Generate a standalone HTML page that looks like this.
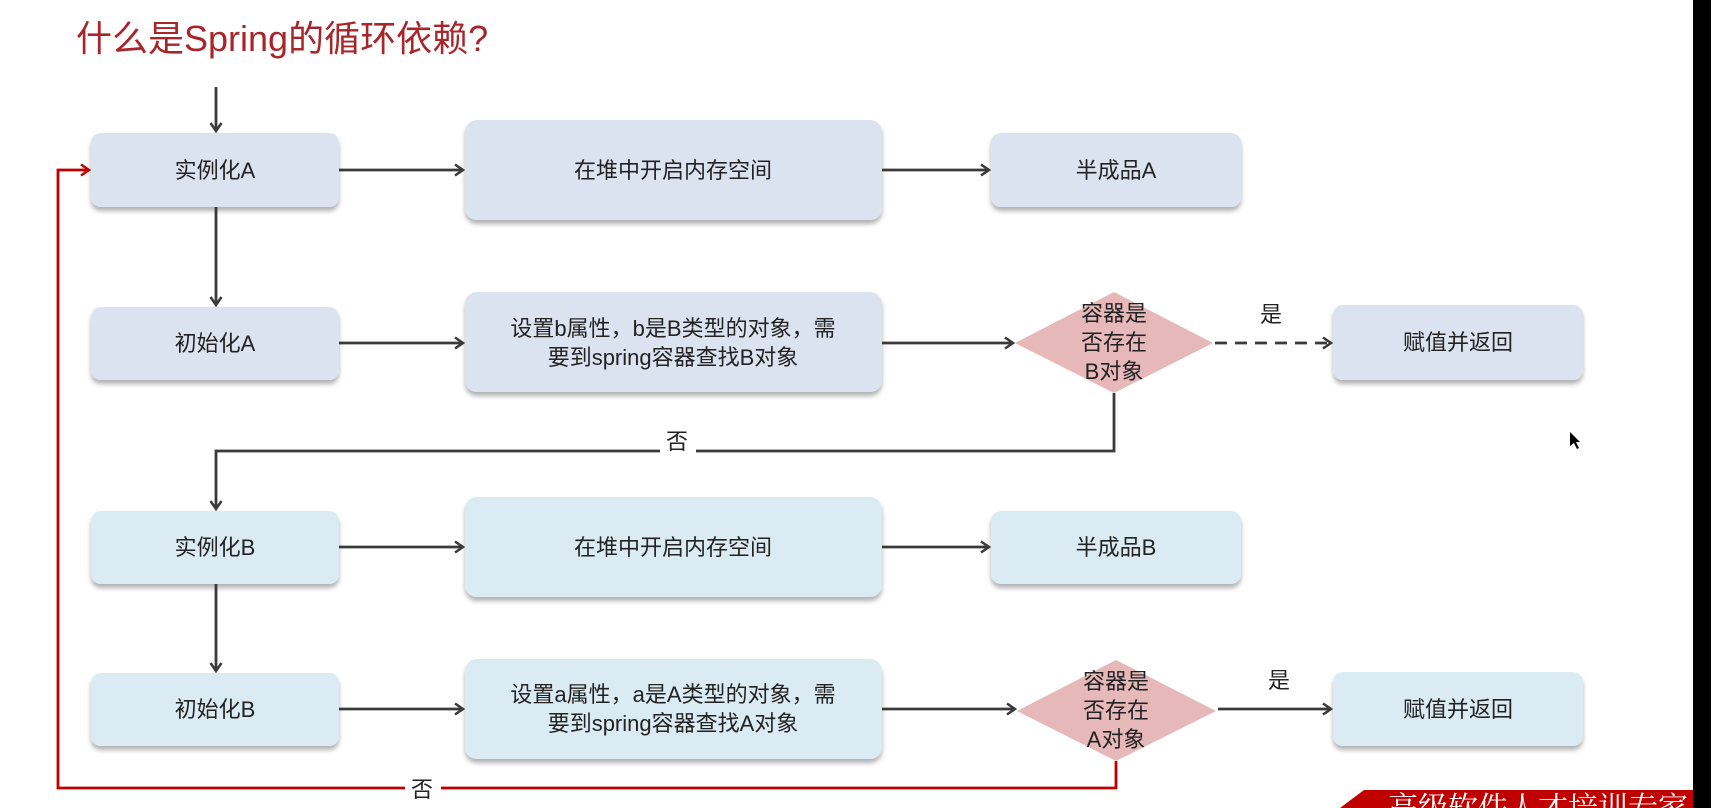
<!DOCTYPE html>
<html><head><meta charset="utf-8"><style>
html,body{margin:0;padding:0;background:#fff;}
svg{display:block;}
text{font-family:"Liberation Sans","Noto Sans CJK SC",sans-serif;fill:#222;}
</style></head><body>
<svg width="1711" height="808" viewBox="0 0 1711 808" xmlns="http://www.w3.org/2000/svg">
<defs>
<filter id="sh" x="-10%" y="-10%" width="120%" height="130%"><feDropShadow dx="0" dy="4" stdDeviation="2.5" flood-color="#000" flood-opacity="0.3"/></filter>
<marker id="ar" markerWidth="14" markerHeight="14" refX="11" refY="7" orient="auto" markerUnits="userSpaceOnUse"><path d="M3,1.5 L11,7 L3,12.5" fill="none" stroke="#3a3a3a" stroke-width="2.5"/></marker>
<marker id="arr" markerWidth="14" markerHeight="14" refX="11" refY="7" orient="auto" markerUnits="userSpaceOnUse"><path d="M3,1.5 L11,7 L3,12.5" fill="none" stroke="#c00000" stroke-width="2.5"/></marker>
</defs>
<rect x="1693" y="0" width="18" height="808" fill="#000"/>
<text x="76" y="51" font-size="36" style="fill:#a8262a">什么是Spring的循环依赖?</text>

<g filter="url(#sh)">
<rect x="91" y="133" width="248" height="74" rx="10" fill="#dce3f0"/>
<rect x="465" y="120" width="417" height="100" rx="12" fill="#dce3f0"/>
<rect x="991" y="133" width="250" height="74" rx="10" fill="#dce3f0"/>
<rect x="91" y="307" width="248" height="73" rx="10" fill="#dce3f0"/>
<rect x="465" y="292" width="417" height="100" rx="12" fill="#dce3f0"/>
<rect x="1333" y="305" width="250" height="75" rx="10" fill="#dce3f0"/>
<rect x="91" y="511" width="248" height="73" rx="10" fill="#dbebf3"/>
<rect x="465" y="497" width="417" height="100" rx="12" fill="#dbebf3"/>
<rect x="991" y="511" width="250" height="73" rx="10" fill="#dbebf3"/>
<rect x="91" y="673" width="248" height="73" rx="10" fill="#dbebf3"/>
<rect x="465" y="659" width="417" height="100" rx="12" fill="#dbebf3"/>
<rect x="1333" y="672" width="250" height="74" rx="10" fill="#dbebf3"/>
</g>
<polygon points="1114,292 1213,343 1114,393 1015,343" fill="#e6b8b9"/>
<polygon points="1116,660 1216,711 1116,761 1017,711" fill="#e6b8b9"/>

<g font-size="22" text-anchor="middle">
<text x="215" y="178">实例化A</text>
<text x="673" y="178">在堆中开启内存空间</text>
<text x="1116" y="178">半成品A</text>
<text x="215" y="351">初始化A</text>
<text x="673" y="336">设置b属性，b是B类型的对象，需</text>
<text x="673" y="365">要到spring容器查找B对象</text>
<text x="1458" y="350">赋值并返回</text>
<text x="215" y="555">实例化B</text>
<text x="673" y="555">在堆中开启内存空间</text>
<text x="1116" y="555">半成品B</text>
<text x="215" y="717">初始化B</text>
<text x="673" y="702">设置a属性，a是A类型的对象，需</text>
<text x="673" y="731">要到spring容器查找A对象</text>
<text x="1458" y="717">赋值并返回</text>
</g>
<g font-size="22" text-anchor="middle">
<text x="1114" y="321">容器是</text>
<text x="1114" y="350">否存在</text>
<text x="1114" y="379">B对象</text>
<text x="1116" y="689">容器是</text>
<text x="1116" y="718">否存在</text>
<text x="1116" y="747">A对象</text>
<text x="1271" y="322">是</text>
<text x="1279" y="688">是</text>
</g>

<g stroke="#3a3a3a" stroke-width="2.8" fill="none">
<line x1="216" y1="87" x2="216" y2="131" marker-end="url(#ar)"/>
<line x1="216" y1="207" x2="216" y2="305" marker-end="url(#ar)"/>
<line x1="216" y1="584" x2="216" y2="671" marker-end="url(#ar)"/>
<line x1="339" y1="170" x2="463" y2="170" marker-end="url(#ar)"/>
<line x1="882" y1="170" x2="989" y2="170" marker-end="url(#ar)"/>
<line x1="339" y1="343" x2="463" y2="343" marker-end="url(#ar)"/>
<line x1="882" y1="343" x2="1013" y2="343" marker-end="url(#ar)"/>
<line x1="1215" y1="343" x2="1331" y2="343" stroke-dasharray="12,8" marker-end="url(#ar)"/>
<line x1="339" y1="547" x2="463" y2="547" marker-end="url(#ar)"/>
<line x1="882" y1="547" x2="989" y2="547" marker-end="url(#ar)"/>
<line x1="339" y1="709" x2="463" y2="709" marker-end="url(#ar)"/>
<line x1="882" y1="709" x2="1015" y2="709" marker-end="url(#ar)"/>
<line x1="1218" y1="709" x2="1331" y2="709" marker-end="url(#ar)"/>
<polyline points="1114,393 1114,451 216,451 216,509" marker-end="url(#ar)"/>
</g>
<polyline points="1116,761 1116,788 58,788 58,170 89,170" fill="none" stroke="#c00000" stroke-width="2.8" marker-end="url(#arr)"/>
<rect x="660" y="427" width="36" height="28" fill="#fff"/>
<text x="677" y="449" font-size="22" text-anchor="middle">否</text>
<rect x="405" y="774" width="36" height="28" fill="#fff"/>
<text x="422" y="797" font-size="22" text-anchor="middle">否</text>

<polygon points="1364,790 1693,790 1693,808 1340,808" fill="#c00000"/>
<text x="1388" y="818" font-size="30" style="fill:#fff;font-family:'Noto Serif CJK SC',serif">高级软件人才培训专家</text>
<path d="M1570,432 L1570,446 L1574,443 L1577,449 L1579,448 L1576,442 L1580,442 Z" fill="#000"/>
</svg>
</body></html>
